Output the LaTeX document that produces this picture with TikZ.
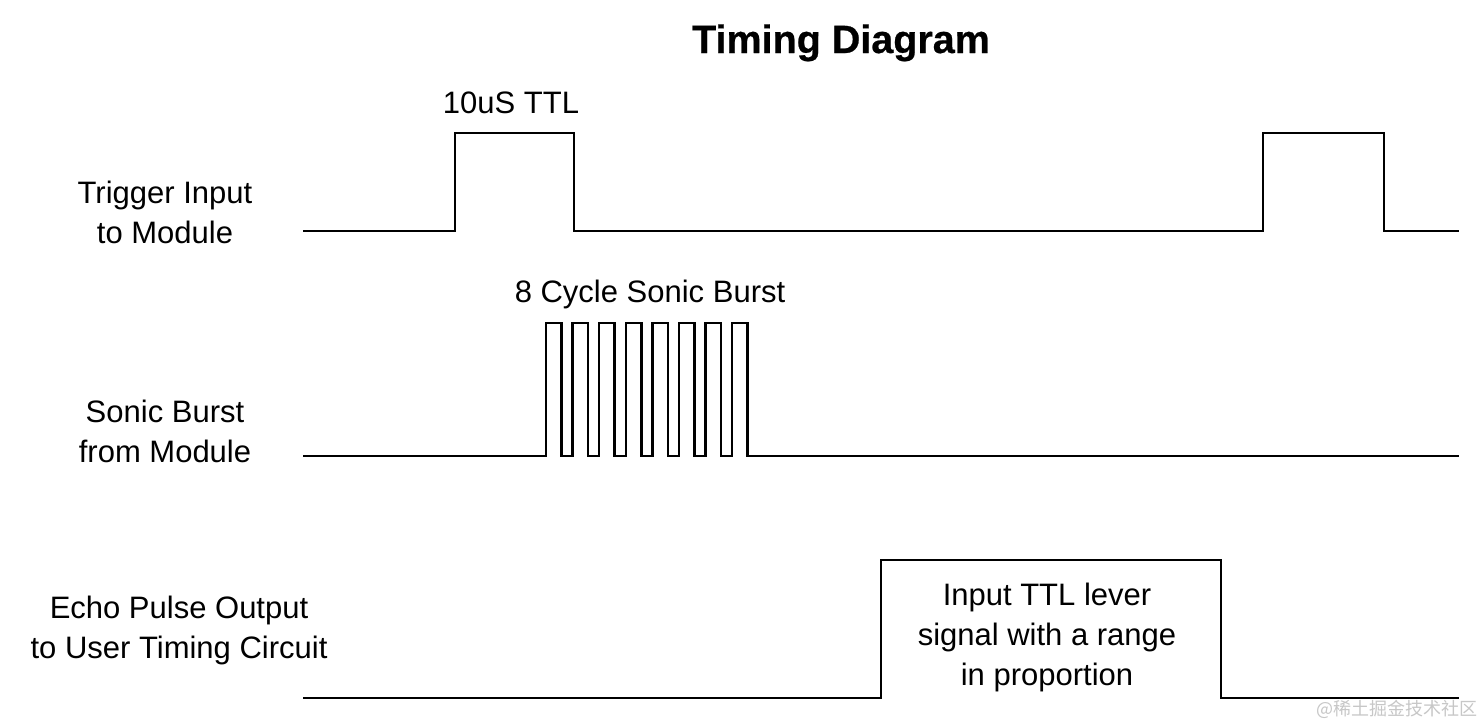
\documentclass[tikz,border=0pt]{standalone}
\usepackage{fontspec}
\setmainfont{Liberation Sans}
\newfontfamily\titlefont[FakeBold=0.6]{Liberation Sans Bold}
\newfontfamily\cjk{Noto Sans CJK SC}
\definecolor{wmgray}{gray}{0.78}
\begin{document}
\begin{tikzpicture}[x=1pt,y=-1pt,
  sig/.style={line width=2.5pt,line join=miter,black},
  lbl/.style={anchor=base,inner sep=0pt,font=\fontsize{31}{40}\selectfont},
  ttl/.style={anchor=base,inner sep=0pt,font=\titlefont\fontsize{39.5}{44}\selectfont}]
\useasboundingbox (0,0) rectangle (1483,723);
\fill[white] (0,0) rectangle (1483,723);
% title
\node[ttl] (title) at (841,53) {Timing Diagram};
% left labels
\node[lbl] (trigA) at (165,203) {Trigger Input};
\node[lbl] (trigB) at (165,243) {to Module};
\node[lbl] (sonA) at (165,422) {Sonic Burst};
\node[lbl] (sonB) at (165,462) {from Module};
\node[lbl] (echoA) at (179,618) {Echo Pulse Output};
\node[lbl] (echoB) at (179,658) {to User Timing Circuit};
% annotations
\node[lbl] (ttl10) at (511,113) {10uS TTL};
\node[lbl] (burstlbl) at (650,302) {8 Cycle Sonic Burst};
\node[lbl] (boxA) at (1047,605) {Input TTL lever};
\node[lbl] (boxB) at (1047,645) {signal with a range};
\node[lbl] (boxC) at (1047,685) {in proportion};
% trigger signal
\draw[sig] (303,231) -- (455,231) -- (455,133) -- (574,133) -- (574,231)
  -- (1263,231) -- (1263,133) -- (1384,133) -- (1384,231) -- (1459,231);
% sonic burst
\draw[sig] (303,456)
  \foreach \k in {0,...,7} {
    -- ({546+26.6*\k},456) -- ({546+26.6*\k},323) -- ({561.5+26.6*\k},323) -- ({561.5+26.6*\k},456)
  } -- (1459,456);
% echo pulse
\draw[sig] (303,698) -- (881,698) -- (881,560) -- (1221,560) -- (1221,698) -- (1459,698);
% watermark
\node[anchor=base east,inner sep=0pt,text=wmgray,font=\cjk\fontsize{18}{20}\selectfont] (wm) at (1478,715) {@稀土掘金技术社区};
\end{tikzpicture}
\end{document}
